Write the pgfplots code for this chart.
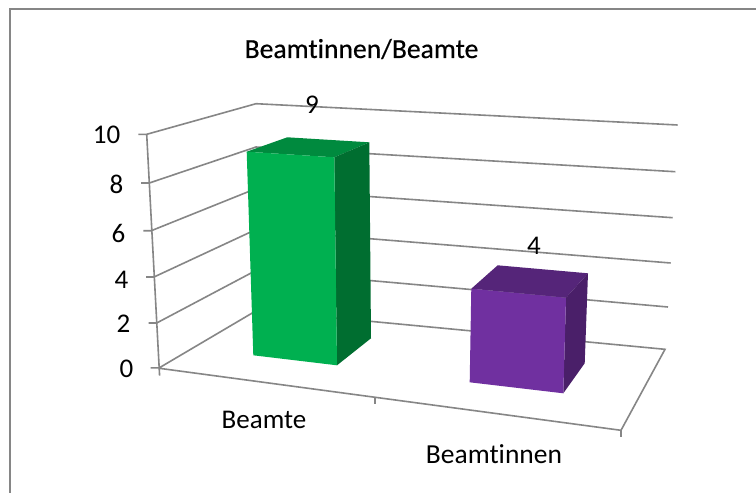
\documentclass[border=0pt]{standalone}
\usepackage{pgfplots}
\pgfplotsset{compat=1.18}
\usepackage{fontspec}
\setmainfont[Ligatures=NoCommon]{Carlito}
\newfontfamily\titlefont[Ligatures=NoCommon,FakeBold=0.5]{Carlito}
\definecolor{gridg}{HTML}{868686}
\definecolor{gfront}{HTML}{00B050}
\definecolor{gtop}{HTML}{008A3E}
\definecolor{gside}{HTML}{006E30}
\definecolor{pfront}{HTML}{7030A0}
\definecolor{ptop}{HTML}{552579}
\definecolor{pside}{HTML}{4A1F69}
\tikzset{
  grid line/.style={draw=gridg, line width=1.6pt},
  lab/.style={font=\fontsize{27}{29}\selectfont, text=black, inner sep=0pt, anchor=center},
}
\begin{document}
\begin{tikzpicture}
\begin{axis}[
  scale only axis, width=756pt, height=493pt,
  xmin=0, xmax=756, ymin=0, ymax=493, y dir=reverse,
  hide axis, clip=true,
  every axis plot/.append style={no marks},
]
% page-filling white ground
\addplot[fill=white, draw=none] coordinates {(0,0) (756,0) (756,493) (0,493)} -- cycle;
% chart frame
\addplot[draw=gridg, line width=2pt] coordinates {(10,493) (10,9.2) (756,9.2)};
% gridlines on the side wall and the back wall
\addplot[grid line] coordinates {(138.3,134.3) (146.7,134.3) (256,103.7) (677.7,125)};
\addplot[grid line] coordinates {(141,183) (149.3,183) (256,147) (675.3,171.7)};
\addplot[grid line] coordinates {(143.3,230.7) (151.3,230.7) (256,188.6) (672.7,217.7)};
\addplot[grid line] coordinates {(146,277) (154,277) (256,229.5) (670.7,263)};
\addplot[grid line] coordinates {(148.7,323) (156.7,323) (256,270.4) (668,307)};
% floor
\addplot[grid line] coordinates {(150.7,367.8) (159.3,367.8) (256.5,310.5) (665,349.3) (621,430.3) (159.3,368.3)};
% left wall edge and ticks
\addplot[grid line] coordinates {(146.7,134.3) (159.6,375.7)};
\addplot[grid line] coordinates {(621,430.3) (621,436.7)};
\addplot[grid line] coordinates {(375,397) (375,404)};
% bar Beamte = 9
\addplot[fill=gtop, draw=none] coordinates {(246.7,151.7) (287.3,137.3) (369.3,142.3) (334.3,157.3)} -- cycle;
\addplot[fill=gside, draw=none] coordinates {(334.3,157.3) (369.3,142.3) (371,338.3) (337,365.3)} -- cycle;
\addplot[fill=gfront, draw=none] coordinates {(246.7,151.7) (334.3,157.3) (337,365.3) (253.3,355.3)} -- cycle;
% bar Beamtinnen = 4
\addplot[fill=ptop, draw=none] coordinates {(471.3,288.7) (497.7,265.3) (588,273.3) (566,297.7)} -- cycle;
\addplot[fill=pside, draw=none] coordinates {(566,297.7) (588,273.3) (584.7,363.3) (563.3,393.3)} -- cycle;
\addplot[fill=pfront, draw=none] coordinates {(471.3,288.7) (566,297.7) (563.3,393.3) (469.7,382.3)} -- cycle;
% text
\node[lab, font=\titlefont\fontsize{27.6}{30}\selectfont] at (axis cs:361.5,49) {Beamtinnen/Beamte};
\node[lab, anchor=east] at (axis cs:120.5,135) {10};
\node[lab, anchor=east] at (axis cs:123.5,184) {8};
\node[lab, anchor=east] at (axis cs:125.5,233) {6};
\node[lab, anchor=east] at (axis cs:128.5,280) {4};
\node[lab, anchor=east] at (axis cs:130.5,324) {2};
\node[lab, anchor=east] at (axis cs:133.5,368.7) {0};
\node[lab] at (axis cs:312,105) {9};
\node[lab] at (axis cs:534,246) {4};
\node[lab] at (axis cs:264,420) {Beamte};
\node[lab, font=\fontsize{27.5}{29}\selectfont] at (axis cs:494,454) {Beamtinnen};
\end{axis}
\end{tikzpicture}
\end{document}
